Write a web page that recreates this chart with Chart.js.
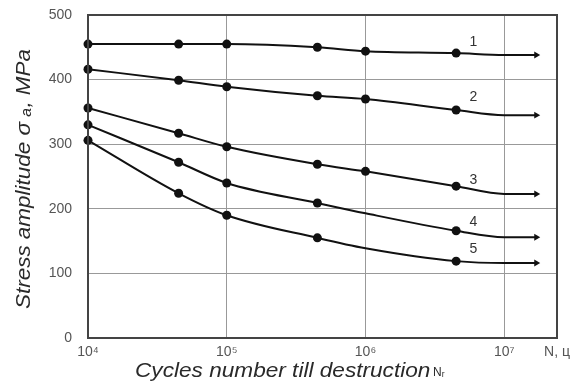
<!DOCTYPE html>
<html lang="en">
<head>
    <meta charset="UTF-8">
    <title>S-N curves</title>
    <script src="https://cdn.jsdelivr.net/npm/chart.js"></script>
    <style>
        html, body { margin: 0; padding: 0; background: #fff; }
        .chart-box { width: 585px; height: 382px; }
    </style>
</head>
<body>
    <div class="chart-box">
        <canvas id="snChart" width="585" height="382"></canvas>
    </div>

    <script>
        // cycles to failure (x positions of the read points)
        const cycles = [1e4, 4.5e4, 1e5, 4.5e5, 1e6, 4.5e6, 1e7, 1.7e7];
        // stress amplitude, MPa, for each curve
        const curve1 = [455, 455, 455, 450, 444, 441, 438, 438];
        const curve2 = [416, 399, 389, 375, 370, 353, 345, 345];
        const curve3 = [356, 317, 296, 269, 258, 235, 223, 223];
        const curve4 = [330, 272, 240, 209, 193, 166, 156, 156];
        const curve5 = [306, 224, 190, 155, 139, 119, 116, 116];
        // which points carry a dot (1) / plain line (0) / arrow head (2)
        const marks123 = [1, 1, 1, 1, 1, 1, 0, 2];
        const marks45 = [1, 1, 1, 1, 0, 1, 0, 2];
        const curveNames = ['1', '2', '3', '4', '5'];
        // where each curve number sits (data units)
        const nameX = 6e6;
        const nameY = [458, 373, 245, 180, 137];

        const xTickValues = [1e4, 1e5, 1e6, 1e7, 2.4e7];
        const xTickLabels = ['10\u2074', '10\u2075', '10\u2076', '10\u2077', 'N, \u0446'];
        const yTickValues = [0, 100, 200, 300, 400, 500];

        function makeSet(values, marks) {
            return {
                data: cycles.map((c, i) => ({ x: c, y: values[i] })),
                borderColor: '#111',
                backgroundColor: '#111',
                borderWidth: 2,
                cubicInterpolationMode: 'monotone',
                pointRadius: marks.map(m => m === 1 ? 4.5 : (m === 2 ? 4 : 0)),
                pointStyle: marks.map(m => m === 2 ? 'triangle' : 'circle'),
                pointRotation: marks.map(m => m === 2 ? 90 : 0),
                pointBorderWidth: 0,
                clip: false
            };
        }

        const extras = {
            id: 'extras',
            afterDraw(chart) {
                const { ctx, chartArea: a, scales: { x, y } } = chart;
                ctx.save();
                // frame
                ctx.strokeStyle = '#444';
                ctx.lineWidth = 2;
                ctx.strokeRect(a.left, a.top, a.right - a.left, a.bottom - a.top);
                // curve numbers
                ctx.fillStyle = '#333';
                ctx.font = '14px "Liberation Sans", Arial, sans-serif';
                ctx.textAlign = 'center';
                ctx.textBaseline = 'middle';
                curveNames.forEach((n, i) => ctx.fillText(n, x.getPixelForValue(nameX), y.getPixelForValue(nameY[i])));
                // x title (slightly wide, like the original)
                ctx.fillStyle = '#2a2a2a';
                ctx.textAlign = 'left';
                ctx.textBaseline = 'alphabetic';
                ctx.save();
                ctx.translate(135, 377);
                ctx.scale(1.077, 1);
                ctx.font = 'italic 21px "Liberation Sans", Arial, sans-serif';
                ctx.fillText('Cycles number till destruction', 0, 0);
                ctx.restore();
                ctx.font = '12px "Liberation Sans", Arial, sans-serif';
                ctx.fillText('N\u1D63', 433, 376);
                // y title
                ctx.translate(30, 179);
                ctx.rotate(-Math.PI / 2);
                ctx.scale(1.07, 1);
                ctx.textAlign = 'center';
                ctx.font = 'italic 21px "Liberation Sans", Arial, sans-serif';
                ctx.fillText('Stress amplitude \u03C3 \u2090, MPa', 0, 0);
                ctx.restore();
            }
        };

        new Chart(document.getElementById('snChart'), {
            type: 'line',
            data: {
                datasets: [
                    makeSet(curve1, marks123),
                    makeSet(curve2, marks123),
                    makeSet(curve3, marks123),
                    makeSet(curve4, marks45),
                    makeSet(curve5, marks45)
                ]
            },
            options: {
                responsive: false,
                animation: false,
                layout: { autoPadding: false, padding: { left: 0, right: 28, top: 15, bottom: 0 } },
                plugins: {
                    legend: { display: false },
                    tooltip: { enabled: false }
                },
                scales: {
                    x: {
                        type: 'logarithmic',
                        min: 1e4,
                        max: 2.4e7,
                        afterBuildTicks: s => { s.ticks = xTickValues.map(v => ({ value: v })); },
                        afterFit: s => { s.height = 44; s.paddingLeft = 0; s.paddingRight = 0; },
                        ticks: {
                            autoSkip: false,
                            maxRotation: 0,
                            padding: 6,
                            color: '#555',
                            font: { family: '"Liberation Sans", Arial, sans-serif', size: 14 },
                            callback: (v, i) => xTickLabels[i]
                        },
                        grid: { color: '#999', lineWidth: 1, drawTicks: false },
                        border: { display: false }
                    },
                    y: {
                        min: 0,
                        max: 500,
                        afterBuildTicks: s => { s.ticks = yTickValues.map(v => ({ value: v })); },
                        afterFit: s => { s.width = 88; s.paddingTop = 0; s.paddingBottom = 0; },
                        ticks: {
                            padding: 16,
                            color: '#555',
                            font: { family: '"Liberation Sans", Arial, sans-serif', size: 14 }
                        },
                        grid: { color: '#999', lineWidth: 1, drawTicks: false },
                        border: { display: false }
                    }
                }
            },
            plugins: [extras]
        });
    </script>
</body>
</html>
